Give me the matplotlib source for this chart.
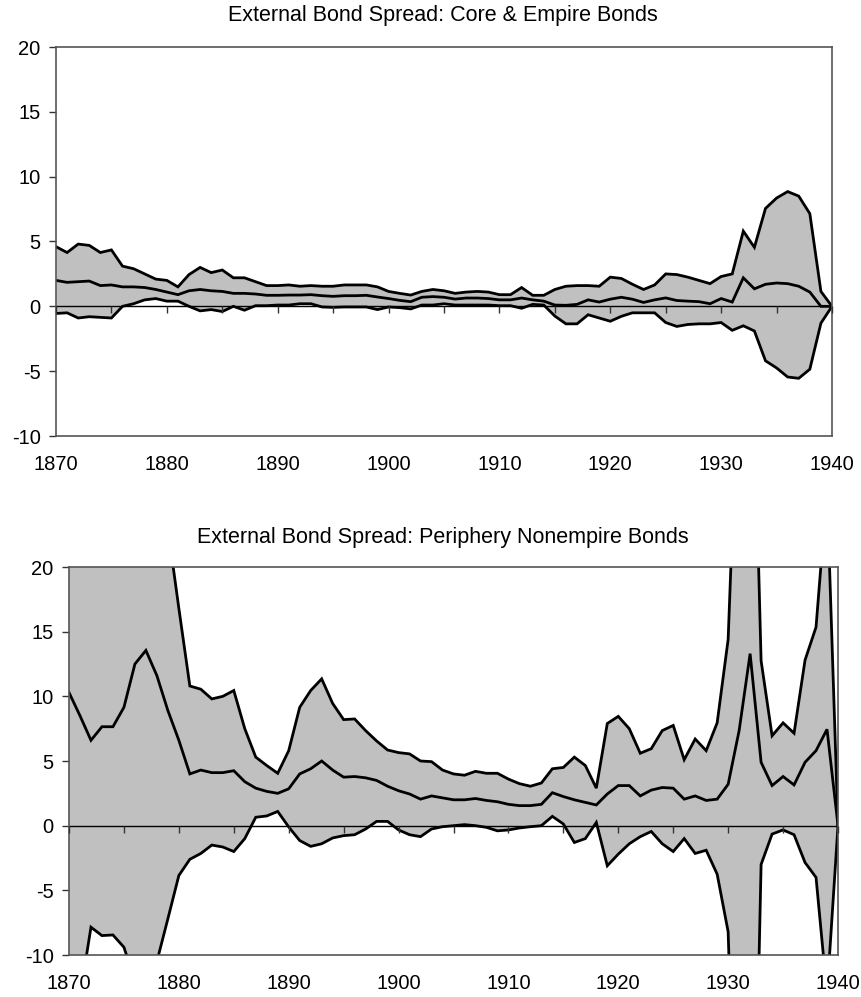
import numpy as np
import matplotlib
matplotlib.use("Agg")
import matplotlib.pyplot as plt

plt.rcParams["font.family"] = ["Liberation Sans", "DejaVu Sans"]
plt.rcParams["axes.unicode_minus"] = False

years = np.arange(1870, 1941)

# --- Core & Empire bonds (upper band, mean, lower band) ---
core_hi = [4.6, 4.15, 4.8, 4.7, 4.15, 4.35, 3.1, 2.9, 2.5, 2.1,
           2.0, 1.5, 2.45, 3.0, 2.6, 2.8, 2.2, 2.2, 1.9, 1.6,
           1.6, 1.65, 1.55, 1.6, 1.55, 1.55, 1.65, 1.65, 1.65, 1.5,
           1.15, 1.0, 0.87, 1.15, 1.3, 1.2, 1.0, 1.1, 1.15, 1.1,
           0.9, 0.9, 1.45, 0.85, 0.85, 1.3, 1.55, 1.6, 1.6, 1.55,
           2.25, 2.15, 1.7, 1.3, 1.65, 2.5, 2.45, 2.25, 2.0, 1.75,
           2.3, 2.5, 5.8, 4.55, 7.55, 8.35, 8.85, 8.5, 7.15, 1.15,
           0.0]
core_mid = [2.0, 1.85, 1.9, 1.95, 1.6, 1.65, 1.5, 1.5, 1.45, 1.3,
            1.1, 0.9, 1.2, 1.3, 1.2, 1.15, 1.0, 1.0, 0.95, 0.85,
            0.85, 0.87, 0.87, 0.9, 0.82, 0.77, 0.82, 0.82, 0.85, 0.72,
            0.6, 0.46, 0.36, 0.7, 0.75, 0.7, 0.56, 0.64, 0.64, 0.6,
            0.5, 0.5, 0.64, 0.5, 0.4, 0.1, 0.08, 0.15, 0.5, 0.33,
            0.55, 0.7, 0.55, 0.3, 0.5, 0.65, 0.45, 0.4, 0.36, 0.2,
            0.6, 0.33, 2.2, 1.35, 1.7, 1.8, 1.75, 1.55, 1.1, 0.0,
            0.0]
core_lo = [-0.55, -0.5, -0.9, -0.8, -0.85, -0.9, 0.0, 0.2, 0.5, 0.6,
           0.4, 0.4, 0.0, -0.35, -0.25, -0.4, 0.0, -0.3, 0.05, 0.05,
           0.1, 0.1, 0.2, 0.2, -0.05, -0.08, -0.05, -0.05, -0.05, -0.25,
           -0.05, -0.1, -0.2, 0.1, 0.1, 0.2, 0.1, 0.1, 0.1, 0.1,
           0.05, 0.05, -0.15, 0.15, 0.1, -0.75, -1.35, -1.35, -0.65, -0.9,
           -1.15, -0.77, -0.5, -0.5, -0.5, -1.25, -1.55, -1.4, -1.35, -1.35,
           -1.25, -1.85, -1.5, -1.9, -4.2, -4.75, -5.45, -5.55, -4.85, -1.3,
           0.0]

# --- Periphery nonempire bonds ---
peri_hi = [35, 32, 30, 30, 31, 33, 38, 40, 35, 23,
           16.8, 10.8, 10.55, 9.8, 10.0, 10.45, 7.5, 5.3, 4.65, 4.05,
           5.8, 9.15, 10.45, 11.35, 9.45, 8.2, 8.25, 7.35, 6.55, 5.85,
           5.65, 5.55, 5.0, 4.95, 4.3, 4.0, 3.9, 4.2, 4.05, 4.05,
           3.6, 3.25, 3.05, 3.3, 4.4, 4.5, 5.3, 4.65, 2.9, 7.9,
           8.45, 7.5, 5.6, 5.95, 7.35, 7.75, 5.1, 6.7, 5.8, 7.95,
           14.4, 37, 45, 12.75, 6.95, 7.95, 7.15, 12.8, 15.35, 26,
           0.0]
peri_mid = [10.3, 8.5, 6.6, 7.65, 7.65, 9.15, 12.5, 13.55, 11.6, 8.9,
            6.6, 4.0, 4.3, 4.1, 4.1, 4.25, 3.4, 2.9, 2.65, 2.5,
            2.85, 4.0, 4.4, 5.0, 4.3, 3.75, 3.8, 3.7, 3.5, 3.05,
            2.7, 2.45, 2.05, 2.3, 2.15, 2.0, 2.0, 2.1, 1.95, 1.85,
            1.65, 1.55, 1.55, 1.65, 2.55, 2.25, 2.0, 1.8, 1.6, 2.45,
            3.1, 3.1, 2.3, 2.75, 2.95, 2.9, 2.05, 2.3, 1.95, 2.05,
            3.2, 7.35, 13.3, 4.9, 3.1, 3.8, 3.15, 4.9, 5.8, 7.45,
            0.0]
peri_lo = [-14, -13.2, -7.85, -8.5, -8.45, -9.4, -12, -13, -10.5, -7.2,
           -3.85, -2.6, -2.15, -1.5, -1.65, -2.0, -1.0, 0.65, 0.75, 1.1,
           -0.1, -1.15, -1.6, -1.4, -0.95, -0.77, -0.7, -0.26, 0.33, 0.33,
           -0.33, -0.7, -0.85, -0.26, -0.08, 0.0, 0.08, 0.0, -0.13, -0.4,
           -0.33, -0.18, -0.08, 0.0, 0.72, 0.13, -1.3, -1.0, 0.25, -3.1,
           -2.2, -1.4, -0.85, -0.45, -1.4, -2.0, -1.0, -2.15, -1.9, -3.75,
           -8.2, -35, -42, -3.0, -0.65, -0.33, -0.7, -2.85, -4.0, -13,
           0.0]

panels = [
    ("External Bond Spread: Core & Empire Bonds", core_hi, core_mid, core_lo,
     [56, 47, 832, 436], 21),
    ("External Bond Spread: Periphery Nonempire Bonds", peri_hi, peri_mid, peri_lo,
     [69, 567, 838, 955], 543),
]

W, H = 862, 997
fig = plt.figure(figsize=(W / 100, H / 100), dpi=100)

for title, hi, mid, lo, (x0, y0, x1, y1), ty in panels:
    ax = fig.add_axes([x0 / W, 1 - y1 / H, (x1 - x0) / W, (y1 - y0) / H])
    ax.fill_between(years, lo, hi, color="#c0c0c0", lw=0, zorder=1)
    ax.axhline(0, color="black", lw=1.0, zorder=1.5)
    for s in (hi, mid, lo):
        ax.plot(years, s, color="black", lw=2.0, solid_joinstyle="miter", zorder=2)
    ax.set_xlim(1870, 1940)
    ax.set_ylim(-10, 20)
    ax.set_yticks(np.arange(-10, 21, 5))
    ax.set_xticks(np.arange(1870, 1941, 10))
    ax.tick_params(axis="x", length=0, pad=14, labelsize=14.5)
    ax.tick_params(axis="y", length=5, width=1, color="#333333", pad=6, labelsize=14.5)
    for sp in ax.spines.values():
        sp.set_color("#555555")
        sp.set_linewidth(1.2)

    # category axis crossing at zero with tick marks every 5 years
    zx = ax.secondary_xaxis(1 / 3)
    zx.set_zorder(3)
    zx.set_xticks(np.arange(1870, 1941, 5))
    zx.tick_params(axis="x", length=5, width=1, direction="out", labelbottom=False,
                   color="#333333")
    zx.set_xticklabels([])
    zx.spines["bottom"].set_visible(False)

    fig.text(443 / W, 1 - ty / H, title, ha="center", va="baseline", fontsize=15.5)

fig.savefig("out.png", dpi=100)
